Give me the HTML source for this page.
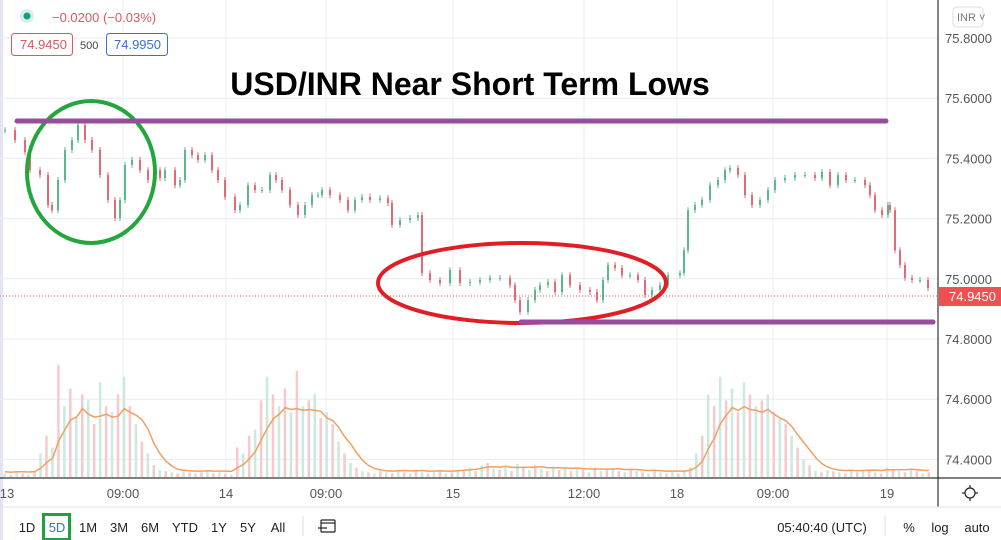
<!DOCTYPE html>
<html><head><meta charset="utf-8"><style>
body{margin:0;width:1001px;height:540px;overflow:hidden;background:#fff;font-family:"Liberation Sans",sans-serif;}
svg{display:block}
</style></head><body>
<svg width="1001" height="540" xmlns="http://www.w3.org/2000/svg">
<rect x="0" y="0" width="3" height="540" fill="#e3e5ee"/>
<g id="grid"></g>
<g id="vol"></g>
<path id="ma" fill="none" stroke="#f0a060" stroke-width="1.5"/>
<g id="candles"></g>
<line x1="0" y1="296" x2="938" y2="296" stroke="#e05a5a" stroke-width="1" stroke-dasharray="1,2"/>
<ellipse cx="91" cy="172" rx="64" ry="71" fill="none" stroke="#24a63e" stroke-width="4"/>
<ellipse cx="522" cy="283" rx="144" ry="40" fill="none" stroke="#e01e24" stroke-width="4"/>
<line x1="17" y1="121" x2="886" y2="121" stroke="#974c9c" stroke-width="5" stroke-linecap="round"/>
<line x1="521" y1="322" x2="933" y2="322" stroke="#974c9c" stroke-width="5" stroke-linecap="round"/>
<text x="470" y="95" text-anchor="middle" font-size="32" font-weight="bold" fill="#000">USD/INR Near Short Term Lows</text>
<line x1="938" y1="0" x2="938" y2="507" stroke="#333" stroke-width="1.2"/>
<line x1="0" y1="478" x2="1001" y2="478" stroke="#333" stroke-width="1.2"/>
<g id="ptick" font-size="13" fill="#555"></g>
<g id="ttick" font-size="13" fill="#555" text-anchor="middle"></g>
<rect x="939" y="287" width="62" height="19" fill="#f05050"/>
<text x="949" y="301" font-size="13" fill="#fff">74.9450</text>
<rect x="953" y="7" width="30" height="20" rx="4" fill="#fff" stroke="#ddd"/>
<text x="957" y="21" font-size="11" fill="#777">INR ˅</text>
<g transform="translate(970,493)" stroke="#222" stroke-width="1.2" fill="none">
<circle r="5"/><line x1="0" y1="-8" x2="0" y2="-5"/><line x1="0" y1="5" x2="0" y2="8"/><line x1="-8" y1="0" x2="-5" y2="0"/><line x1="5" y1="0" x2="8" y2="0"/>
</g>
<circle cx="27" cy="16" r="7" fill="#d6efea"/>
<circle cx="27" cy="16" r="3.5" fill="#1a9a80"/>
<text x="52" y="22" font-size="13" fill="#e05560">−0.0200 (−0.03%)</text>
<rect x="11.5" y="33.5" width="61" height="22" rx="3" fill="#fff" stroke="#e05560"/>
<text x="20" y="49" font-size="13" fill="#e05560">74.9450</text>
<text x="80" y="49" font-size="11" fill="#444">500</text>
<rect x="106.5" y="33.5" width="61" height="22" rx="3" fill="#fff" stroke="#3a6fd8"/>
<text x="114" y="49" font-size="13" fill="#3a6fd8">74.9950</text>
<line x1="0" y1="507" x2="1001" y2="507" stroke="#e0e3eb"/>
<g font-size="13" fill="#222" text-anchor="middle">
<text x="27" y="532">1D</text>
<rect x="43.5" y="514.5" width="26" height="25" fill="none" stroke="#20a040" stroke-width="3"/>
<text x="57" y="532" fill="#3a6fd8">5D</text>
<text x="88" y="532">1M</text>
<text x="119" y="532">3M</text>
<text x="150" y="532">6M</text>
<text x="185" y="532">YTD</text>
<text x="219" y="532">1Y</text>
<text x="248" y="532">5Y</text>
<text x="278" y="532">All</text>
<line x1="303" y1="516" x2="303" y2="536" stroke="#ddd"/>
<g stroke="#222" fill="none" stroke-width="1.2"><rect x="321" y="520" width="14" height="12" rx="1"/><line x1="321" y1="523" x2="335" y2="523"/><line x1="318" y1="528" x2="327" y2="528"/></g>
<text x="822" y="532">05:40:40 (UTC)</text>
<line x1="885" y1="516" x2="885" y2="536" stroke="#ddd"/>
<text x="909" y="532">%</text>
<text x="940" y="532">log</text>
<text x="977" y="532">auto</text>
</g>
</svg>
<script>
const priceTicks=[75.8,75.6,75.4,75.2,75.0,74.8,74.6,74.4];
const timeLabels=["13","09:00","14","09:00","15","12:00","18","09:00","19"];
const timePos=[0,118,221,321,448,579,672,768,882];
const times=[0,10,20,25,35,43,47,53,60,67,73,80,87,95,103,110,115,120,127,135,143,150,155,160,170,175,180,187,193,200,207,213,220,230,235,243,250,257,265,271,277,285,293,300,307,313,317,325,335,343,350,357,365,375,383,387,395,405,413,417,425,435,445,455,465,475,485,495,505,510,515,523,530,535,543,550,557,565,575,585,592,598,603,610,617,625,633,640,647,655,663,675,679,683,690,697,705,713,720,725,733,740,747,755,763,770,780,790,800,810,817,825,833,841,850,860,865,870,877,883,885,890,895,900,907,915,923];
const closes=[75.494,75.461,75.421,75.361,75.345,75.245,75.228,75.328,75.428,75.461,75.511,75.461,75.428,75.345,75.262,75.202,75.262,75.378,75.395,75.361,75.328,75.361,75.335,75.361,75.311,75.328,75.428,75.411,75.395,75.411,75.361,75.328,75.272,75.228,75.245,75.311,75.295,75.295,75.345,75.328,75.295,75.245,75.212,75.245,75.278,75.278,75.295,75.278,75.262,75.228,75.262,75.272,75.262,75.268,75.252,75.179,75.195,75.202,75.212,75.019,74.996,74.986,75.029,74.986,74.989,74.996,75.003,75.003,74.979,74.929,74.890,74.929,74.963,74.979,74.989,74.956,75.012,74.979,74.963,74.956,74.929,74.996,75.046,75.036,75.012,75.012,74.996,74.946,74.963,74.979,75.012,75.019,75.095,75.228,75.245,75.262,75.311,75.328,75.361,75.368,75.345,75.278,75.245,75.262,75.295,75.328,75.335,75.345,75.345,75.335,75.355,75.311,75.345,75.328,75.328,75.311,75.278,75.228,75.212,75.245,75.228,75.095,75.046,75.003,74.996,74.996,74.969];
const volumes=[3,2,4,3,2,5,20,35,25,95,60,75,50,70,65,45,80,60,55,70,85,60,45,30,20,10,6,5,4,3,5,4,3,4,5,3,4,3,2,25,20,35,40,65,85,70,60,75,55,90,60,65,70,50,55,45,30,20,12,8,5,4,3,5,4,3,6,4,3,5,4,3,4,5,3,4,5,6,8,5,10,12,7,6,9,5,11,8,6,10,7,5,9,6,8,5,7,6,4,8,5,6,7,5,4,6,5,4,3,5,4,3,4,3,5,8,20,35,70,60,85,65,75,55,80,70,60,65,70,55,50,45,35,25,15,10,5,4,6,5,4,3,5,4,6,5,4,3,8,6,5,4,6,5,3,4];
const NS="http://www.w3.org/2000/svg";
const xS=t=>5+t;
const yP=p=>38+(75.8-p)/0.2*60.2;
const vBase=477,vH=118;
const yV=v=>vBase-v/100*vH;
function mk(tag,attrs,parent){const e=document.createElementNS(NS,tag);for(const k in attrs)e.setAttribute(k,attrs[k]);parent.appendChild(e);return e;}
const grid=document.getElementById('grid');
priceTicks.forEach(p=>{
 const l=mk('line',{x1:0,x2:938,y1:yP(p),y2:yP(p),stroke:'#e8ecf2'},grid);
 
 
 const t=mk('text',{x:945,y:yP(p)+5},document.getElementById('ptick'));
 t.textContent=p.toFixed(4);
 
 
});
timeLabels.forEach((s,i)=>{
 const x=xS(timePos[i]);
 if(i>0){const l=mk('line',{x1:x,x2:x,y1:0,y2:478,stroke:'#e8ecf2'},grid);
 
 }
 const t=mk('text',{x:i===0?7:x,y:498},document.getElementById('ttick'));
 t.textContent=s;
 
 
});
const vg=document.getElementById('vol');
const step=924/(volumes.length-1);
let ma=[];
volumes.forEach((v,i)=>{
 const x=5+i*step;
 const up=i%2===0;
 const r=mk('rect',{x:x-1.5,y:yV(v),width:2.5,height:vBase-yV(v),fill:up?'#cbe9dc':'#f6c9cd'},vg);
 
 
 const a=Math.max(0,i-4);let s=0;for(let j=a;j<=i;j++)s+=volumes[j];
 ma.push((i?'L':'M')+x.toFixed(1)+','+yV(s/(i-a+1)*0.8+2).toFixed(1));
});
document.getElementById('ma').setAttribute('d',ma.join(''));
const cg=document.getElementById('candles');
closes.forEach((c,i)=>{
 const o=i?closes[i-1]:c;
 const x=xS(times[i]);
 const up=c>=o;
 const col=up?'#5cb88a':'#e36a73';
 const yo=yP(o),yc=yP(c);
 const w=mk('line',{x1:x,x2:x,y1:Math.min(yo,yc)-3,y2:Math.max(yo,yc)+3,stroke:col,'stroke-width':1},cg);
 
 
 const b=mk('rect',{x:x-1,y:Math.min(yo,yc),width:2,height:Math.max(1,Math.abs(yo-yc)),fill:col},cg);
 
 
});
</script>
</body></html>
